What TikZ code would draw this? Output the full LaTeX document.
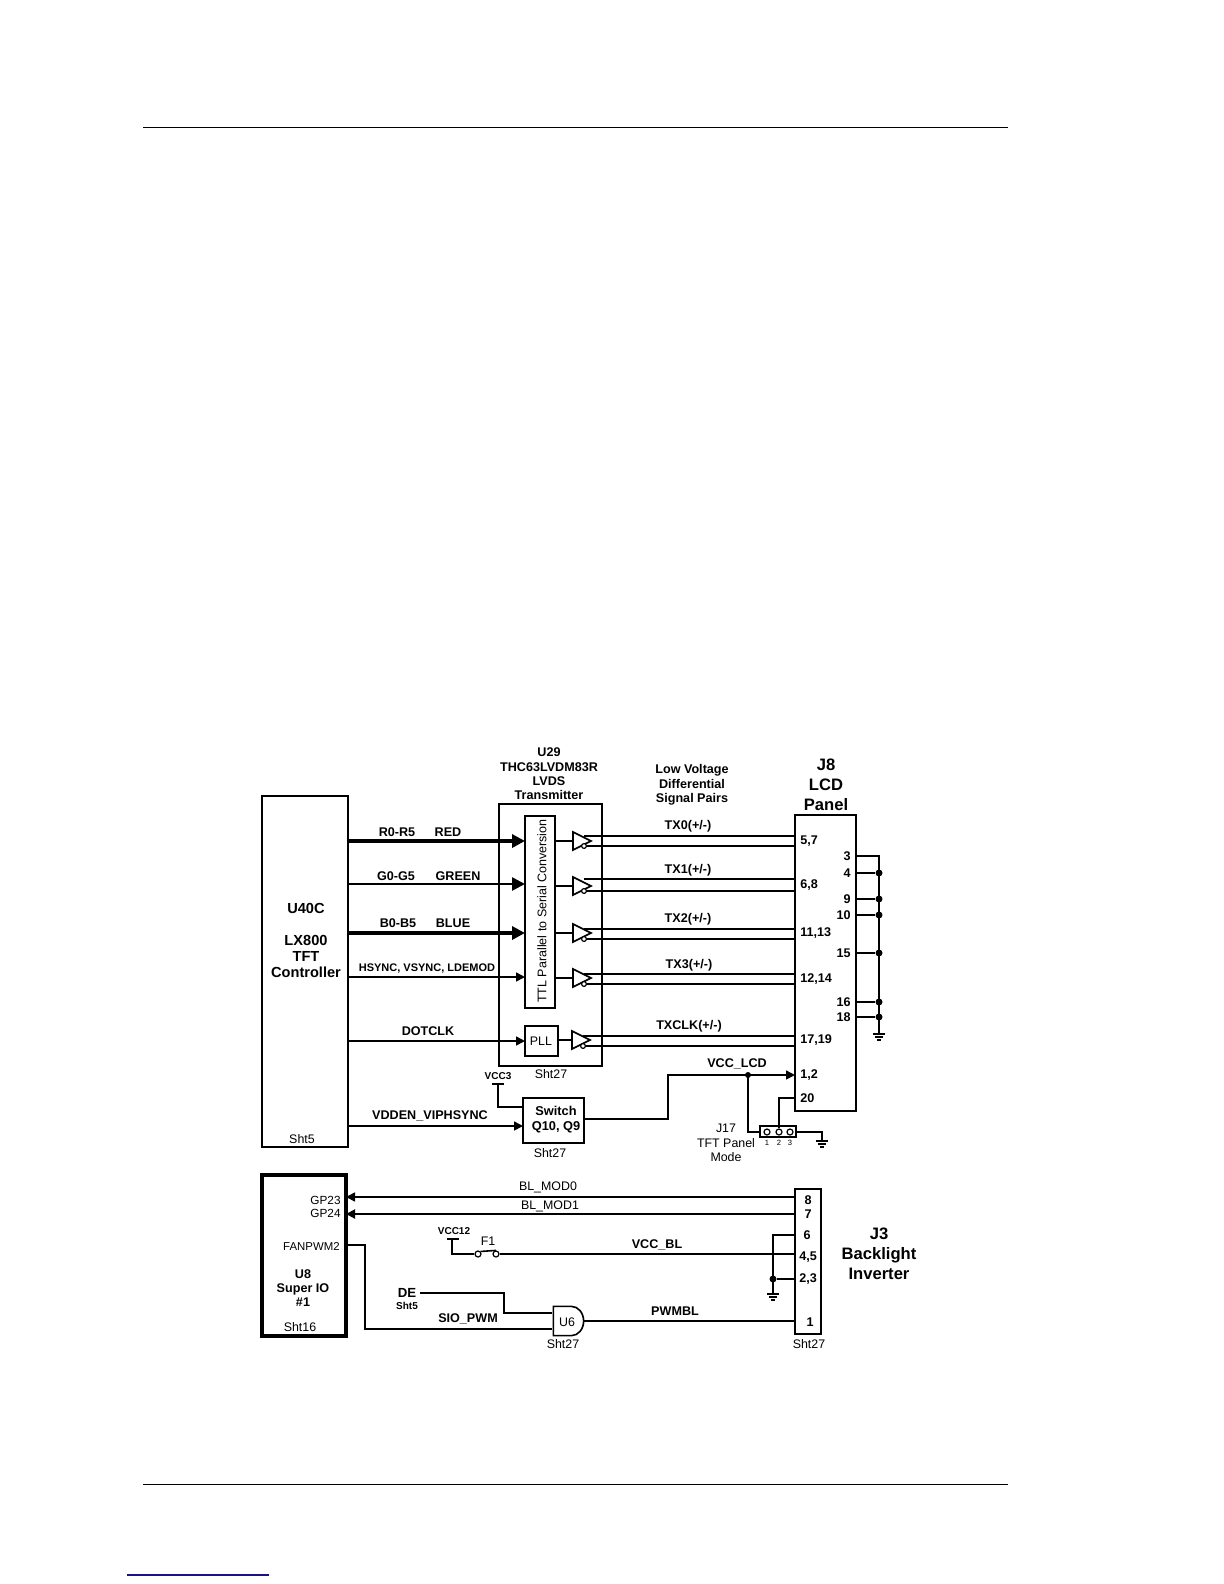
\documentclass[tikz,border=0pt]{standalone}
\usepackage{fontspec}
\setmainfont{Liberation Sans}
\usetikzlibrary{arrows.meta, positioning, shapes.geometric, shapes.gates.logic.US}

\begin{document}
\begin{tikzpicture}[
    x=0.5pt, y=-0.5pt,
    % Styles
    blockbox/.style={
        rectangle,
        draw=black,
        line width=1.2pt,
        anchor=north west,
        inner sep=0pt,
        outer sep=0pt
    },
    title/.style={
        font=\fontsize{8.3}{10}\selectfont\bfseries,
        align=center,
        inner sep=0pt
    },
    blocklabel/.style={
        font=\fontsize{7.3}{8}\selectfont\bfseries,
        align=center,
        inner sep=0pt
    },
    bold/.style={
        font=\fontsize{6.3}{7.2}\selectfont\bfseries,
        align=center,
        inner sep=0pt
    },
    plain/.style={
        font=\fontsize{6.2}{7.2}\selectfont,
        align=center,
        inner sep=0pt
    },
    tiny/.style={
        font=\fontsize{5}{6}\selectfont\bfseries,
        align=center,
        inner sep=0pt
    },
    wire/.style={
        line width=0.8pt
    },
    pair/.style={
        line width=0.95pt
    },
    busarrow/.style={
        -{Triangle[length=6.5pt,width=6.5pt]},
        line width=1.8pt
    },
    arrow/.style={
        -{Triangle[length=4.5pt,width=4.5pt]},
        line width=0.8pt
    },
    buffer/.style={
        isosceles triangle,
        isosceles triangle stretches,
        draw=black,
        line width=0.8pt,
        minimum width=9pt,
        minimum height=9pt,
        inner sep=0pt,
        outer sep=0pt,
        anchor=west
    },
    bubble/.style={
        circle,
        draw=black,
        fill=white,
        line width=0.6pt,
        minimum size=2.4pt,
        inner sep=0pt
    },
    contact/.style={
        circle,
        draw=black,
        fill=white,
        line width=0.6pt,
        minimum size=3pt,
        inner sep=0pt
    },
    dot/.style={
        circle,
        fill=black,
        minimum size=3.5pt,
        inner sep=0pt
    },
    gnd/.pic={
        \draw[line width=0.7pt] (-6,0) -- (6,0);
        \draw[line width=0.7pt] (-4,3) -- (4,3);
        \draw[line width=0.7pt] (-2,6) -- (2,6);
    }
]
\useasboundingbox (0,0) rectangle (1224,1584);

% Page rules
\coordinate (topL) at (143,128);
\coordinate (topR) at (1008,128);
\coordinate (botL) at (143,1484);
\coordinate (botR) at (1008,1484);
\coordinate (linkL) at (127,1575);
\coordinate (linkR) at (269,1575);
\draw[line width=0.5pt] (topL) -- (topR);
\draw[line width=0.5pt] (botL) -- (botR);
\definecolor{linkblue}{RGB}{20,20,130}
\draw[linkblue, line width=0.6pt] (linkL) -- (linkR);

% U40C block
\node[blockbox, minimum width=43pt, minimum height=175.5pt] (u40c) at (262,796) {};
\node[blocklabel] (u40cLabel) at (306,940) {U40C\\[8pt]LX800\\TFT\\Controller};
\node[plain] (sht5a) at (302,1139) {Sht5};

% U29 block
\node[blockbox, line width=0.9pt, minimum width=51.5pt, minimum height=131pt] (u29) at (499,804) {};
\node[bold] (u29Label) at (549,774) {U29\\THC63LVDM83R\\LVDS\\Transmitter};
\node[plain] (sht27a) at (551,1074) {Sht27};
\node[blockbox, line width=0.8pt, minimum width=15pt, minimum height=96pt] (ttl) at (525,816) {};
\node[plain, rotate=90, font=\fontsize{6.25}{7}\selectfont] (ttlLabel) at (542,911) {TTL Parallel to Serial Conversion};
\node[blockbox, line width=0.8pt, minimum width=16.5pt, minimum height=15pt] (pll) at (525,1026) {};
\node[plain] (pllLabel) at (541,1041) {PLL};

% J8 connector
\node[blockbox, minimum width=30.5pt, minimum height=148pt] (j8) at (795,815) {};
\node[title] (j8Label) at (826,785) {J8\\LCD\\Panel};
\node[bold] (pairLabel) at (692,785) {Low Voltage\\Differential\\Signal Pairs};

% Inputs to U29
\coordinate (rIn) at (525,841);
\coordinate (gIn) at (525,884);
\coordinate (bIn) at (525,933);
\coordinate (hIn) at (525,977);
\draw[busarrow] (u40c.east |- rIn) -- (rIn);
\draw[busarrow, line width=1.3pt] (u40c.east |- gIn) -- (gIn);
\draw[busarrow] (u40c.east |- bIn) -- (bIn);
\draw[arrow] (u40c.east |- hIn) -- (hIn);
\draw[arrow] (u40c.east |- pll.west) -- (pll.west);
\node[bold] (rName) at (397,832) {R0-R5};
\node[bold] (rColor) at (448,832) {RED};
\node[bold] (gName) at (396,876) {G0-G5};
\node[bold] (gColor) at (458,876) {GREEN};
\node[bold] (bName) at (398,923) {B0-B5};
\node[bold] (bColor) at (453,923) {BLUE};
\node[bold, font=\fontsize{5.5}{6}\selectfont\bfseries] (hName) at (427,968) {HSYNC, VSYNC, LDEMOD};
\node[bold] (dotName) at (428,1031) {DOTCLK};

% LVDS buffers
\node[buffer] (buf0) at (573,841) {};
\node[buffer] (buf1) at (573,886) {};
\node[buffer] (buf2) at (573,933) {};
\node[buffer] (buf3) at (573,978) {};
\node[buffer] (buf4) at (572,1040) {};
\draw[wire] (ttl.east |- buf0.west) -- (buf0.west);
\draw[wire] (ttl.east |- buf1.west) -- (buf1.west);
\draw[wire] (ttl.east |- buf2.west) -- (buf2.west);
\draw[wire] (ttl.east |- buf3.west) -- (buf3.west);
\draw[wire] (pll.east |- buf4.west) -- (buf4.west);

% Differential pairs
\coordinate (tx0p) at (584,836);
\coordinate (tx1p) at (584,879);
\coordinate (tx2p) at (584,929);
\coordinate (tx3p) at (584,974);
\coordinate (tx4p) at (583,1036);
\node[bubble] (tx0n) at (584,846) {};
\node[bubble] (tx1n) at (584,891) {};
\node[bubble] (tx2n) at (584,939) {};
\node[bubble] (tx3n) at (584,984) {};
\node[bubble] (tx4n) at (583,1046) {};
\draw[pair] (tx0p) -- (j8.west |- tx0p);
\draw[pair] (tx1p) -- (j8.west |- tx1p);
\draw[pair] (tx2p) -- (j8.west |- tx2p);
\draw[pair] (tx3p) -- (j8.west |- tx3p);
\draw[pair] (tx4p) -- (j8.west |- tx4p);
\draw[pair] (tx0n) -- (j8.west |- tx0n);
\draw[pair] (tx1n) -- (j8.west |- tx1n);
\draw[pair] (tx2n) -- (j8.west |- tx2n);
\draw[pair] (tx3n) -- (j8.west |- tx3n);
\draw[pair] (tx4n) -- (j8.west |- tx4n);
\node[bold] (tx0Label) at (688,826) {TX0(+/-)};
\node[bold] (tx1Label) at (688,870) {TX1(+/-)};
\node[bold] (tx2Label) at (688,919) {TX2(+/-)};
\node[bold] (tx3Label) at (689,965) {TX3(+/-)};
\node[bold] (tx4Label) at (689,1026) {TXCLK(+/-)};

% J8 left pins
\node[bold, anchor=west] (pin57) at (800,841) {5,7};
\node[bold, anchor=west] (pin68) at (800,885) {6,8};
\node[bold, anchor=west] (pin1113) at (800,933) {11,13};
\node[bold, anchor=west] (pin1214) at (800,979) {12,14};
\node[bold, anchor=west] (pin1719) at (800,1040) {17,19};
\node[bold, anchor=west] (pin12) at (800,1075) {1,2};
\node[bold, anchor=west] (pin20) at (800,1098) {20};

% J8 right pins
\node[bold, anchor=east] (pin3) at (851,856) {3};
\node[bold, anchor=east] (pin4) at (851,873) {4};
\node[bold, anchor=east] (pin9) at (851,899) {9};
\node[bold, anchor=east] (pin10) at (851,915) {10};
\node[bold, anchor=east] (pin15) at (851,953) {15};
\node[bold, anchor=east] (pin16) at (851,1002) {16};
\node[bold, anchor=east] (pin18) at (851,1017) {18};
\coordinate (bus3) at (879,856);
\node[dot] (bus4) at (879,873) {};
\node[dot] (bus9) at (879,899) {};
\node[dot] (bus10) at (879,915) {};
\node[dot] (bus15) at (879,953) {};
\node[dot] (bus16) at (879,1002) {};
\node[dot] (bus18) at (879,1017) {};
\coordinate (gndJ8) at (879,1034);
\draw[wire] (j8.east |- bus3) -- (bus3) -- (gndJ8);
\draw[wire] (j8.east |- bus4) -- (bus4);
\draw[wire] (j8.east |- bus9) -- (bus9);
\draw[wire] (j8.east |- bus10) -- (bus10);
\draw[wire] (j8.east |- bus15) -- (bus15);
\draw[wire] (j8.east |- bus16) -- (bus16);
\draw[wire] (j8.east |- bus18) -- (bus18);
\pic at (gndJ8) {gnd};

% Power switch
\node[blockbox, minimum width=30.5pt, minimum height=22.5pt] (switch) at (523,1098) {};
\node[bold, font=\fontsize{6.4}{7.4}\selectfont\bfseries] (switchLabel) at (556,1120) {Switch\\Q10, Q9};
\node[plain] (sht27b) at (550,1153) {Sht27};
\node[tiny] (vcc3) at (498,1076) {VCC3};
\coordinate (vcc3Bar) at (498,1084);
\coordinate (vcc3L) at (492,1084);
\coordinate (vcc3R) at (504,1084);
\coordinate (vcc3In) at (523,1107);
\draw[wire] (vcc3L) -- (vcc3R);
\draw[wire] (vcc3Bar) |- (vcc3In);
\coordinate (vddIn) at (523,1126);
\draw[arrow] (u40c.east |- vddIn) -- (vddIn);
\node[bold] (vddName) at (430,1116) {VDDEN\_VIPHSYNC};

% VCC_LCD and J17
\coordinate (swOut) at (584,1119);
\coordinate (swTurn) at (668,1119);
\coordinate (lcdIn) at (795,1075);
\node[dot, minimum size=3pt] (lcdDot) at (748,1075) {};
\draw[wire] (swOut) -- (swTurn) |- (lcdDot.center);
\draw[arrow] (lcdDot.center) -- (lcdIn);
\node[bold] (vccLcd) at (737,1064) {VCC\_LCD};
\node[blockbox, line width=0.7pt, minimum width=18pt, minimum height=5.5pt] (j17) at (760,1126) {};
\node[contact] (j17a) at (767,1132) {};
\node[contact] (j17b) at (779,1132) {};
\node[contact] (j17c) at (790,1132) {};
\node[plain, font=\fontsize{3.8}{4}\selectfont] (j17n1) at (767,1143) {1};
\node[plain, font=\fontsize{3.8}{4}\selectfont] (j17n2) at (779,1143) {2};
\node[plain, font=\fontsize{3.8}{4}\selectfont] (j17n3) at (790,1143) {3};
\node[plain] (j17Label) at (726,1143) {J17\\TFT Panel\\Mode};
\coordinate (pin20In) at (795,1098);
\coordinate (j17Gnd) at (822,1141);
\draw[wire] (lcdDot.center) |- (j17.west |- j17a);
\draw[wire] (j17b.north) |- (pin20In);
\draw[wire] (j17.east |- j17c) -| (j17Gnd);
\pic at (j17Gnd) {gnd};

% U8 block
\node[blockbox, line width=1.6pt, minimum width=42pt, minimum height=80.5pt] (u8) at (262,1175) {};
\node[plain, anchor=east, font=\fontsize{5.9}{7}\selectfont] (gp23) at (341,1200) {GP23};
\node[plain, anchor=east, font=\fontsize{5.9}{7}\selectfont] (gp24) at (341,1213) {GP24};
\node[plain, anchor=east, font=\fontsize{5.7}{6}\selectfont] (fanpwm) at (340,1247) {FANPWM2};
\node[bold] (u8Label) at (303,1288) {U8\\Super IO\\\#1};
\node[plain] (sht16) at (300,1327) {Sht16};

% J3 connector
\node[blockbox, minimum width=13pt, minimum height=72.5pt] (j3) at (795,1189) {};
\node[title] (j3Label) at (879,1254) {J3\\Backlight\\Inverter};
\node[plain] (sht27c) at (809,1344) {Sht27};
\node[bold] (pin8) at (808,1200) {8};
\node[bold] (pin7) at (808,1214) {7};
\node[bold] (pin6) at (807,1235) {6};
\node[bold] (pin45) at (808,1257) {4,5};
\node[bold] (pin23) at (808,1279) {2,3};
\node[bold] (pin1) at (810,1322) {1};

% Mode lines
\coordinate (mod0) at (795,1197);
\coordinate (mod1) at (795,1214);
\draw[arrow] (mod0) -- (u8.east |- mod0);
\draw[arrow, line width=1pt] (mod1) -- (u8.east |- mod1);
\node[plain] (mod0Label) at (548,1187) {BL\_MOD0};
\node[plain] (mod1Label) at (550,1206) {BL\_MOD1};

% VCC_BL
\node[tiny] (vcc12) at (454,1231) {VCC12};
\coordinate (vcc12Bar) at (452,1239);
\coordinate (vcc12L) at (447,1239);
\coordinate (vcc12R) at (459,1239);
\node[contact] (f1a) at (478,1254) {};
\node[contact] (f1b) at (496,1254) {};
\node[plain] (f1) at (488,1241) {F1};
\draw[wire] (vcc12L) -- (vcc12R);
\draw[wire] (vcc12Bar) |- (f1a.west);
\draw[wire] (f1a.north east) -- (f1b.north);
\draw[wire] (f1b.east) -- (j3.west |- f1b);
\node[bold] (vccBl) at (657,1245) {VCC\_BL};

% J3 ground pins
\coordinate (pin6In) at (795,1235);
\node[dot, minimum size=3.5pt] (gndDot) at (773,1279) {};
\coordinate (gndJ3) at (773,1294);
\draw[wire] (pin6In) -| (gndJ3);
\draw[wire] (j3.west |- gndDot) -- (gndDot);
\pic at (gndJ3) {gnd};

% PWM gate
\node[and gate US, draw=black, line width=0.8pt, logic gate inputs=nn, minimum width=15.5pt, minimum height=14pt, inner sep=0pt, outer sep=0pt, xscale=0.72, yscale=0.87] (u6) at (567.5,1321) {};
\node[plain] (u6Label) at (567,1322) {U6};
\node[plain] (sht27d) at (563,1344) {Sht27};
\node[bold, font=\fontsize{6.6}{7}\selectfont\bfseries] (deLabel) at (407,1293) {DE};
\node[tiny] (sht5b) at (407,1306) {Sht5};
\coordinate (deOut) at (420,1293);
\coordinate (deTurn) at (504,1293);
\coordinate (deIn) at (552,1313);
\coordinate (fanOut) at (346,1245);
\coordinate (fanTurn) at (365,1245);
\coordinate (fanIn) at (552,1329);
\draw[wire] (deOut) -- (deTurn) |- (deIn);
\draw[wire] (fanOut) -- (fanTurn) |- (fanIn);
\draw[wire] (u6.east) -- (j3.west |- u6.east);
\node[bold] (sioPwm) at (468,1319) {SIO\_PWM};
\node[bold] (pwmbl) at (675,1311) {PWMBL};

\end{tikzpicture}
\end{document}
